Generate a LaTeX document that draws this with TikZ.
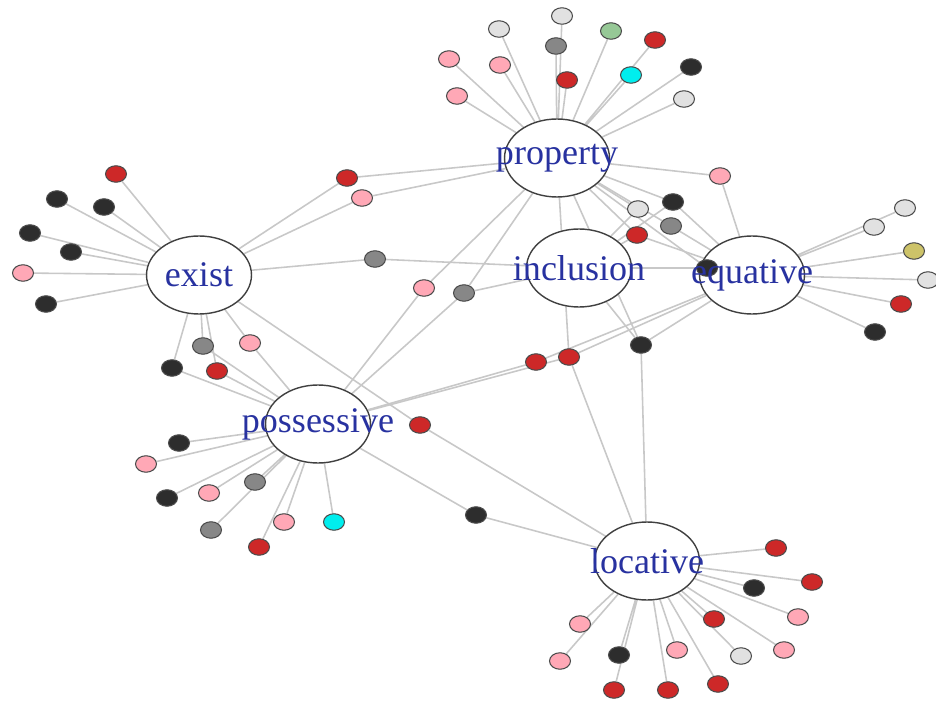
\documentclass[tikz,border=0pt]{standalone}
\usepackage{fontspec}
\setmainfont{Liberation Serif}
\usetikzlibrary{shapes.geometric}
\usetikzlibrary{backgrounds}

\definecolor{edgegray}{RGB}{200,200,200}
\definecolor{lblblue}{RGB}{40,50,160}
\definecolor{cred}{RGB}{205,40,40}
\definecolor{cblack}{RGB}{45,45,45}
\definecolor{cgray}{RGB}{135,135,135}
\definecolor{clight}{RGB}{225,225,225}
\definecolor{cpink}{RGB}{255,168,182}
\definecolor{ccyan}{RGB}{0,238,238}
\definecolor{cgreen}{RGB}{150,200,150}
\definecolor{colive}{RGB}{205,195,105}

\tikzset{
  hub/.style={ellipse, draw=black!75, fill=white, line width=0.8pt,
    minimum width=2.1cm, minimum height=1.56cm, inner sep=0pt},
  leaf/.style={ellipse, draw=black!70, fill=#1, line width=0.6pt,
    minimum width=0.42cm, minimum height=0.33cm, inner sep=0pt},
  hublabel/.style={text=lblblue, font=\fontsize{20.5}{24}\selectfont, inner sep=0pt},
  link/.style={draw=edgegray, line width=0.9pt}
}

\begin{document}
\begin{tikzpicture}[x=0.02cm, y=-0.02cm]
  \useasboundingbox (0,0) rectangle (936,702);

  \node[hub] (prop) at (557,158) {};
  \node[hub] (ex) at (199,275) {};
  \node[hub] (incl) at (579,268) {};
  \node[hub] (equ) at (752,275) {};
  \node[hub] (poss) at (318,424) {};
  \node[hub] (loc) at (647,561) {};

  \node[leaf=clight] (p1) at (499,29) {};
  \node[leaf=clight] (p2) at (562,16) {};
  \node[leaf=cgray] (p3) at (556,46) {};
  \node[leaf=cgreen] (p4) at (611,31) {};
  \node[leaf=cred] (p5) at (655,40) {};
  \node[leaf=cpink] (p6) at (449,59) {};
  \node[leaf=cpink] (p7) at (500,65) {};
  \node[leaf=cred] (p8) at (567,80) {};
  \node[leaf=ccyan] (p9) at (631,75) {};
  \node[leaf=cblack] (p10) at (691,67) {};
  \node[leaf=cpink] (p11) at (457,96) {};
  \node[leaf=clight] (p12) at (684,99) {};

  \node[leaf=cpink] (pe1) at (720,176) {};
  \node[leaf=cred] (ep1) at (347,178) {};
  \node[leaf=cpink] (ep2) at (362,198) {};
  \node[leaf=cgray] (ei1) at (375,259) {};
  \node[leaf=cpink] (pp1) at (424,288) {};
  \node[leaf=cgray] (pp2) at (464,293) {};
  \node[leaf=clight] (m1) at (638,209) {};
  \node[leaf=cblack] (m2) at (673,202) {};
  \node[leaf=cgray] (m3) at (671,226) {};
  \node[leaf=cred] (m4) at (637,235) {};
  \node[leaf=cblack] (m5) at (707,268) {};
  \node[leaf=cred] (q1) at (536,362) {};
  \node[leaf=cred] (q2) at (569,357) {};
  \node[leaf=cblack] (q3) at (641,345) {};
  \node[leaf=cred] (el1) at (420,425) {};
  \node[leaf=cblack] (pl1) at (476,515) {};

  \node[leaf=cred] (e1) at (116,174) {};
  \node[leaf=cblack] (e2) at (57,199) {};
  \node[leaf=cblack] (e3) at (104,207) {};
  \node[leaf=cblack] (e4) at (30,233) {};
  \node[leaf=cblack] (e5) at (71,252) {};
  \node[leaf=cpink] (e6) at (23,273) {};
  \node[leaf=cblack] (e7) at (46,304) {};
  \node[leaf=cgray] (x1) at (203,346) {};
  \node[leaf=cpink] (x2) at (250,343) {};
  \node[leaf=cblack] (x3) at (172,368) {};
  \node[leaf=cred] (x4) at (217,371) {};

  \node[leaf=cblack] (s1) at (179,443) {};
  \node[leaf=cpink] (s2) at (146,464) {};
  \node[leaf=cblack] (s3) at (167,498) {};
  \node[leaf=cpink] (s4) at (209,493) {};
  \node[leaf=cgray] (s5) at (255,482) {};
  \node[leaf=cgray] (s6) at (211,530) {};
  \node[leaf=cpink] (s7) at (284,522) {};
  \node[leaf=cred] (s8) at (259,547) {};
  \node[leaf=ccyan] (s9) at (334,522) {};

  \node[leaf=clight] (u1) at (905,208) {};
  \node[leaf=clight] (u2) at (874,227) {};
  \node[leaf=colive] (u3) at (914,251) {};
  \node[leaf=clight] (u4) at (928,280) {};
  \node[leaf=cred] (u5) at (901,304) {};
  \node[leaf=cblack] (u6) at (875,332) {};

  \node[leaf=cred] (l1) at (776,548) {};
  \node[leaf=cred] (l2) at (812,582) {};
  \node[leaf=cblack] (l3) at (754,588) {};
  \node[leaf=cpink] (l4) at (798,617) {};
  \node[leaf=cred] (l5) at (714,619) {};
  \node[leaf=cpink] (l6) at (784,650) {};
  \node[leaf=clight] (l7) at (741,656) {};
  \node[leaf=cpink] (l8) at (580,624) {};
  \node[leaf=cpink] (l9) at (560,661) {};
  \node[leaf=cblack] (l10) at (619,655) {};
  \node[leaf=cpink] (l11) at (677,650) {};
  \node[leaf=cred] (l12) at (614,690) {};
  \node[leaf=cred] (l13) at (668,690) {};
  \node[leaf=cred] (l14) at (718,684) {};

  \node[hublabel] (prop-t) at (prop) {property};
  \node[hublabel] (ex-t) at (ex) {exist};
  \node[hublabel] (incl-t) at (incl) {inclusion};
  \node[hublabel] (equ-t) at (equ) {equative};
  \node[hublabel] (poss-t) at (poss) {possessive};
  \node[hublabel] (loc-t) at (loc) {locative};

  \begin{pgfonlayer}{background}
    \draw[link] (prop) -- (p1) (prop) -- (p2) (prop) -- (p3) (prop) -- (p4)
      (prop) -- (p5) (prop) -- (p6) (prop) -- (p7) (prop) -- (p8)
      (prop) -- (p9) (prop) -- (p10) (prop) -- (p11) (prop) -- (p12);
    \draw[link] (prop) -- (pe1) -- (equ);
    \draw[link] (ex) -- (ep1) -- (prop);
    \draw[link] (ex) -- (ep2) -- (prop);
    \draw[link] (ex) -- (ei1) -- (incl);
    \draw[link] (poss) -- (pp1) -- (prop);
    \draw[link] (poss) -- (pp2) -- (prop) (pp2) -- (incl);
    \draw[link] (prop) -- (m1) -- (incl);
    \draw[link] (prop) -- (m2) -- (equ) (m2) -- (incl);
    \draw[link] (prop) -- (m3) -- (equ);
    \draw[link] (prop) -- (m4) -- (equ) (m4) -- (incl);
    \draw[link] (prop) -- (m5) -- (equ) (m5) -- (incl);
    \draw[link] (poss) -- (q1) -- (equ);
    \draw[link] (poss) -- (q2) -- (equ) (prop) -- (q2) -- (loc);
    \draw[link] (prop) -- (q3) -- (loc) (incl) -- (q3) -- (equ);
    \draw[link] (ex) -- (el1) -- (loc);
    \draw[link] (poss) -- (pl1) -- (loc);

    \draw[link] (ex) -- (e1) (ex) -- (e2) (ex) -- (e3) (ex) -- (e4)
      (ex) -- (e5) (ex) -- (e6) (ex) -- (e7);
    \draw[link] (ex) -- (x1) -- (poss) (ex) -- (x2) -- (poss)
      (ex) -- (x3) -- (poss) (ex) -- (x4) -- (poss);

    \draw[link] (poss) -- (s1) (poss) -- (s2) (poss) -- (s3) (poss) -- (s4)
      (poss) -- (s5) (poss) -- (s6) (poss) -- (s7) (poss) -- (s8) (poss) -- (s9);

    \draw[link] (equ) -- (u1) (equ) -- (u2) (equ) -- (u3) (equ) -- (u4)
      (equ) -- (u5) (equ) -- (u6);

    \draw[link] (loc) -- (l1) (loc) -- (l2) (loc) -- (l3) (loc) -- (l4)
      (loc) -- (l5) (loc) -- (l6) (loc) -- (l7) (loc) -- (l8) (loc) -- (l9)
      (loc) -- (l10) (loc) -- (l11) (loc) -- (l12) (loc) -- (l13) (loc) -- (l14);
  \end{pgfonlayer}
\end{tikzpicture}
\end{document}
